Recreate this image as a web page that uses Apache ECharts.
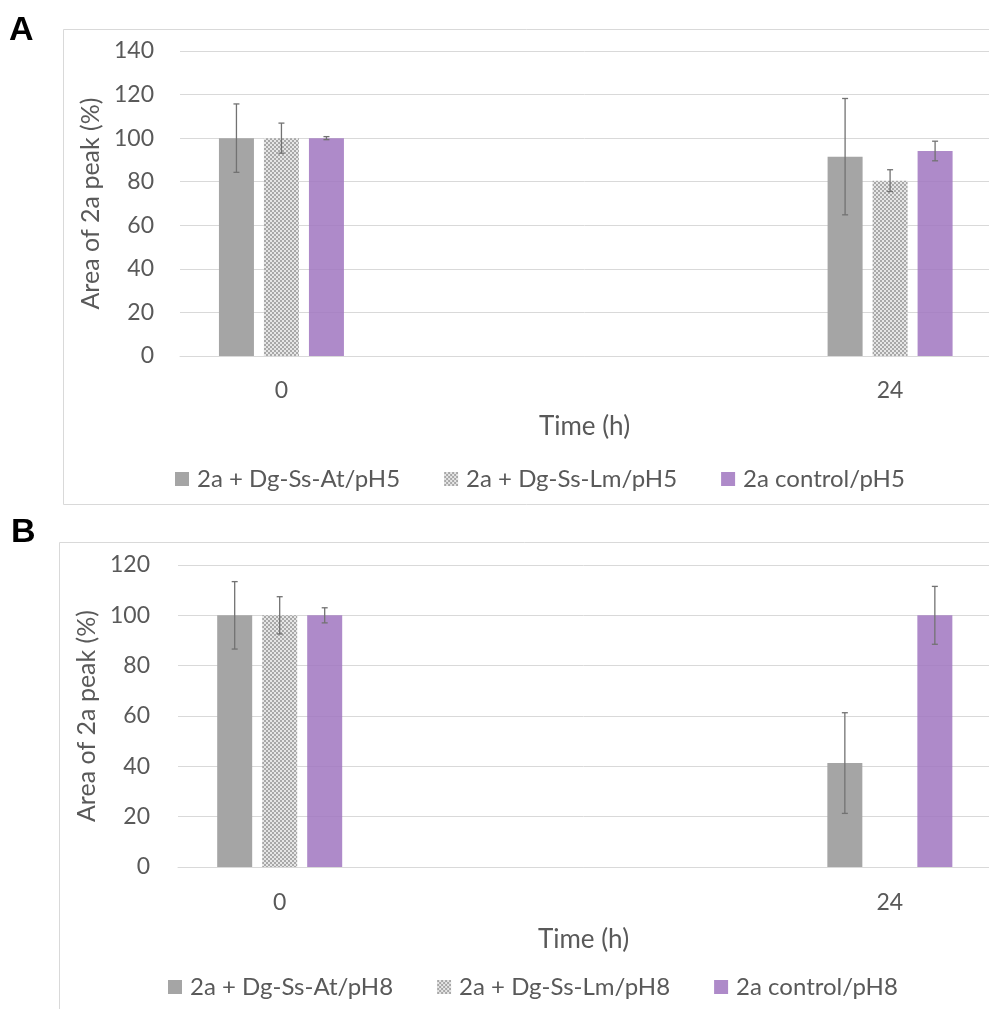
<!DOCTYPE html>
<html><head><meta charset="utf-8">
<script src="https://cdn.jsdelivr.net/npm/echarts@6/dist/echarts.min.js"></script>
<style>html,body{margin:0;padding:0;background:#fff}#c{width:989px;height:1009px}</style>
</head><body><div id="c"></div>
<script>
// ---- data ----
const timePoints = [0, 24];
const xTickLabels = ['0', '24'];
const yTicksA = [0, 20, 40, 60, 80, 100, 120, 140];
const yTicksB = [0, 20, 40, 60, 80, 100, 120];
const namesA = ['2a + Dg-Ss-At/pH5', '2a + Dg-Ss-Lm/pH5', '2a control/pH5'];
const namesB = ['2a + Dg-Ss-At/pH8', '2a + Dg-Ss-Lm/pH8', '2a control/pH8'];
const aAt = [100, 91.5];   const aAtErr = [15.7, 26.7];
const aLm = [100, 80.5];   const aLmErr = [6.9, 5.0];
const aCtl = [100, 94.1];  const aCtlErr = [0.7, 4.5];
const bAt = [100, 41.3];   const bAtErr = [13.4, 20.0];
const bLm = [100, null];   const bLmErr = [7.4, null];
const bCtl = [100, 100];   const bCtlErr = [3.0, 11.5];
const panelLetters = ['A', 'B'];
const xTitle = 'Time (h)';
const yTitle = 'Area of 2a peak (%)';

// ---- style ----
const FONT = 'Lato';
const TXT = '#595959';
const GRIDC = '#d9d9d9';
const BAR_W = 35, GAP_PX = 10;
function makeChecker() {
  const c = document.createElement('canvas'); c.width = 4; c.height = 4;
  const g = c.getContext('2d');
  g.fillStyle = '#e6e6e6'; g.fillRect(0, 0, 4, 4);
  g.fillStyle = '#a8a8a8'; g.fillRect(0, 0, 2, 2); g.fillRect(2, 2, 2, 2);
  return c;
}
const colors = ['#a5a5a5', {image: makeChecker(), repeat: 'repeat'}, 'rgba(160,118,192,0.85)'];

function barSeries(name, vals, idx, k) {
  return {
    type: 'bar', name: name, xAxisIndex: idx, yAxisIndex: idx,
    data: timePoints.map((t, i) => [t, vals[i]]),
    barWidth: BAR_W, barGap: (GAP_PX / BAR_W * 100) + '%',
    itemStyle: {color: colors[k]},
    emphasis: {disabled: true}, z: 2
  };
}
function errSeries(vals, errs, idx, k) {
  const data = [];
  timePoints.forEach((t, i) => { if (vals[i] != null && errs[i] != null) data.push([t, vals[i], errs[i]]); });
  return {
    type: 'custom', xAxisIndex: idx, yAxisIndex: idx, z: 5, silent: true,
    data: data,
    renderItem: function (params, api) {
      const x = api.value(0), v = api.value(1), e = api.value(2);
      const dx = (k - 1) * (BAR_W + GAP_PX);
      const top = api.coord([x, v + e]);
      const bot = api.coord([x, v - e]);
      const cx = top[0] + dx, cap = 3;
      const st = {stroke: '#727272', lineWidth: 1.3};
      return {type: 'group', children: [
        {type: 'line', shape: {x1: cx, y1: top[1], x2: cx, y2: bot[1]}, style: st},
        {type: 'line', shape: {x1: cx - cap, y1: top[1], x2: cx + cap, y2: top[1]}, style: st},
        {type: 'line', shape: {x1: cx - cap, y1: bot[1], x2: cx + cap, y2: bot[1]}, style: st}
      ]};
    }
  };
}
function xAxis(idx, gap, margin) {
  return {
    type: 'value', gridIndex: idx, min: -4, max: 27.9, interval: 4,
    axisLine: {show: true, lineStyle: {color: GRIDC, width: 1}},
    axisTick: {show: false}, splitLine: {show: false},
    axisLabel: {margin: margin, color: TXT, fontFamily: FONT, fontSize: 23, showMaxLabel: false,
      formatter: v => { const i = timePoints.indexOf(v); return i >= 0 ? xTickLabels[i] : ''; }},
    name: xTitle, nameLocation: 'middle', nameGap: gap,
    nameTextStyle: {color: TXT, fontFamily: FONT, fontSize: 26}
  };
}
function yAxis(idx, ticks, gap, margin) {
  return {
    type: 'value', gridIndex: idx, min: ticks[0], max: ticks[ticks.length - 1], interval: ticks[1] - ticks[0],
    axisLine: {show: false}, axisTick: {show: false},
    splitLine: {lineStyle: {color: GRIDC, width: 1}},
    axisLabel: {margin: margin, color: TXT, fontFamily: FONT, fontSize: 23},
    name: yTitle, nameLocation: 'middle', nameGap: gap,
    nameTextStyle: {color: TXT, fontFamily: FONT, fontSize: 25}
  };
}
function legend(names, left, top) {
  return {
    data: names, left: left, top: top, icon: 'rect', itemWidth: 14, itemHeight: 14, itemGap: 44,
    selectedMode: false,
    textStyle: {color: TXT, fontFamily: FONT, fontSize: 24, padding: [0, 0, 0, 3]}
  };
}

const chart = echarts.init(document.getElementById('c'), null, {renderer: 'canvas'});
chart.setOption({
  animation: false,
  backgroundColor: '#fff',
  grid: [
    {left: 180, top: 51, right: 0, height: 305},
    {left: 178, top: 565, right: 0, height: 302}
  ],
  xAxis: [xAxis(0, 58, 23), xAxis(1, 60, 24)],
  yAxis: [yAxis(0, yTicksA, 72, 26), yAxis(1, yTicksB, 74, 28)],
  legend: [legend(namesA, 170, 462), legend(namesB, 163, 970)],
  graphic: [
    {type: 'rect', shape: {x: 63.5, y: 29.5, width: 1000, height: 475}, style: {fill: 'none', stroke: GRIDC, lineWidth: 1}, z: -1},
    {type: 'rect', shape: {x: 59.5, y: 542.5, width: 1000, height: 500}, style: {fill: 'none', stroke: GRIDC, lineWidth: 1}, z: -1},
    {type: 'text', left: 9, top: 14, style: {text: panelLetters[0], fontFamily: 'Liberation Sans', fontWeight: 'bold', fontSize: 34, fill: '#000'}},
    {type: 'text', left: 11, top: 516, style: {text: panelLetters[1], fontFamily: 'Liberation Sans', fontWeight: 'bold', fontSize: 34, fill: '#000'}}
  ],
  series: [
    barSeries(namesA[0], aAt, 0, 0), barSeries(namesA[1], aLm, 0, 1), barSeries(namesA[2], aCtl, 0, 2),
    errSeries(aAt, aAtErr, 0, 0), errSeries(aLm, aLmErr, 0, 1), errSeries(aCtl, aCtlErr, 0, 2),
    barSeries(namesB[0], bAt, 1, 0), barSeries(namesB[1], bLm, 1, 1), barSeries(namesB[2], bCtl, 1, 2),
    errSeries(bAt, bAtErr, 1, 0), errSeries(bLm, bLmErr, 1, 1), errSeries(bCtl, bCtlErr, 1, 2)
  ]
});
</script></body></html>
